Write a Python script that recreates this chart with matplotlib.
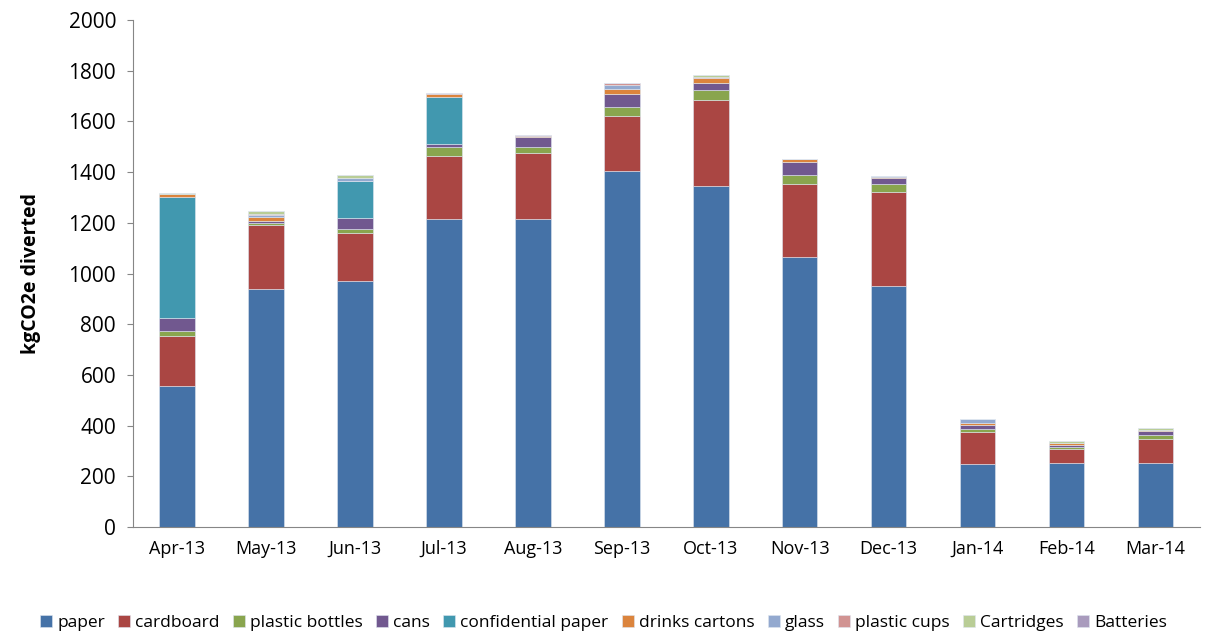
import numpy as np
import matplotlib.pyplot as plt

months = ['Apr-13', 'May-13', 'Jun-13', 'Jul-13', 'Aug-13', 'Sep-13',
          'Oct-13', 'Nov-13', 'Dec-13', 'Jan-14', 'Feb-14', 'Mar-14']

paper = [555, 940, 970, 1215, 1215, 1405, 1345, 1065, 950, 250, 252, 252]
cardboard = [200, 252, 191, 250, 262, 218, 340, 290, 370, 123, 55, 95]
plastic_bottles = [18, 7, 14, 35, 24, 35, 40, 35, 32, 12, 10, 16]
cans = [52, 7, 43, 11, 37, 50, 26, 48, 25, 17, 5, 16]
confidential_paper = [478, 0, 147, 184, 0, 0, 0, 0, 0, 0, 0, 0]
drinks_cartons = [10, 15, 0, 12, 6, 20, 22, 12, 3, 7, 11, 5]
glass = [0, 10, 13, 2, 0, 16, 0, 0, 3, 17, 0, 0]
plastic_cups = [0, 2, 0, 2, 2, 6, 3, 0, 0, 0, 0, 0]
cartridges = [6, 12, 11, 0, 0, 0, 8, 0, 0, 0, 6, 5]
batteries = [0, 0, 0, 0, 0, 0, 0, 0, 0, 0, 0, 0]

series = [
    ('paper', paper, '#4572A7'),
    ('cardboard', cardboard, '#AA4643'),
    ('plastic bottles', plastic_bottles, '#89A54E'),
    ('cans', cans, '#71588F'),
    ('confidential paper', confidential_paper, '#4198AF'),
    ('drinks cartons', drinks_cartons, '#DB843D'),
    ('glass', glass, '#93A9CF'),
    ('plastic cups', plastic_cups, '#D19392'),
    ('Cartridges', cartridges, '#B9CD96'),
    ('Batteries', batteries, '#A99BBD'),
]

plt.rcParams['font.family'] = ['Open Sans', 'DejaVu Sans']

fig = plt.figure(figsize=(12.07, 6.35), dpi=100)
ax = fig.add_axes([0.110, 0.170, 0.884, 0.7985])

x = np.arange(len(months))
bottom = np.zeros(len(months))
for name, vals, col in series:
    vals = np.array(vals, dtype=float)
    ax.bar(x, vals, 0.4, bottom=bottom, color=col, label=name,
           edgecolor='#dfe6f0', linewidth=0.4)
    bottom += vals

ax.set_xlim(-0.5, len(months) - 0.5)
ax.set_ylim(0, 2000)
ax.set_yticks(range(0, 2001, 200))
ax.set_xticks(x)
ax.set_xticklabels(months)
ax.tick_params(axis='x', labelsize=13, length=0, pad=9)
ax.tick_params(axis='y', labelsize=15, length=4, color='#868686',
               direction='out', pad=8)

for s in ['top', 'right']:
    ax.spines[s].set_visible(False)
for s in ['left', 'bottom']:
    ax.spines[s].set_color('#868686')

ax.set_ylabel('kgCO2e diverted', fontsize=14, fontweight='bold', labelpad=20)

fig.legend(loc='lower center', bbox_to_anchor=(0.5, -0.018), ncol=10,
           frameon=False, fontsize=12.5, handlelength=0.7, handleheight=0.7,
           handletextpad=0.3, columnspacing=0.75)

fig.savefig('out.png', dpi=100)
